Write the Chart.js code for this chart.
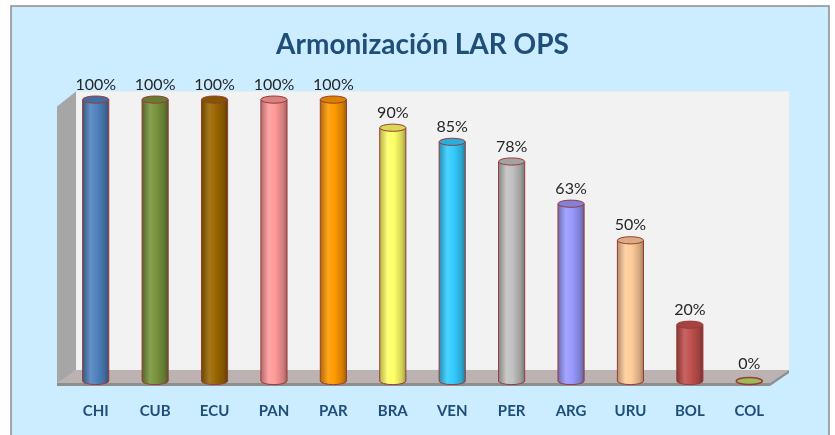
<!DOCTYPE html>
<html>
<head>
<meta charset="utf-8">
<script src="https://cdn.jsdelivr.net/npm/chart.js@4"></script>
<style>
    html, body { margin: 0; padding: 0; background: #ffffff; }
    canvas { display: block; }
</style>
</head>
<body>
<canvas id="chart" width="835" height="435"></canvas>
<script>
    const categories = ["CHI", "CUB", "ECU", "PAN", "PAR", "BRA", "VEN", "PER", "ARG", "URU", "BOL", "COL"];
    const values = [100, 100, 100, 100, 100, 90, 85, 78, 63, 50, 20, 0];
    const barColors = ["#4F81BD", "#77933C", "#996600", "#FF9999", "#FF9900", "#FFFF66", "#33CCFF", "#C0C0C0", "#9999FF", "#FFCC99", "#C0504D", "#9BBB59"];

    const barPercentage = 0.44;
    const outline = "#9B3A38";

    function shade(hex, f) {
        const n = parseInt(hex.slice(1), 16);
        const rgb = [n >> 16, (n >> 8) & 255, n & 255].map(c => {
            const v = f < 1 ? c * f : c + (255 - c) * (f - 1);
            return Math.round(Math.max(0, Math.min(255, v)));
        });
        return `rgb(${rgb.join(",")})`;
    }

    function cylinderFill(ctx, x, half, color) {
        const g = ctx.createLinearGradient(x - half, 0, x + half, 0);
        g.addColorStop(0, shade(color, 0.7));
        g.addColorStop(0.3, shade(color, 1.12));
        g.addColorStop(0.55, color);
        g.addColorStop(0.85, shade(color, 0.82));
        g.addColorStop(1, shade(color, 0.62));
        return g;
    }

    function barHalfWidth(chart) {
        const x = chart.scales.x;
        return x.width / categories.length * barPercentage / 2;
    }

    const stage = {
        id: "stage",
        beforeDraw(chart) {
            const { ctx, chartArea } = chart;
            const { left, right, top, bottom } = chartArea;
            ctx.save();
            ctx.fillStyle = "#ffffff";
            ctx.fillRect(0, 0, chart.width, chart.height);
            ctx.fillStyle = "#CCECFF";
            ctx.fillRect(11, 6, 818, 440);
            ctx.strokeStyle = "#8C8C8C";
            ctx.lineWidth = 1.5;
            ctx.strokeRect(11, 6, 818, 440);

            // back wall
            ctx.fillStyle = "#F2F2F2";
            ctx.fillRect(left + 10, top - 8, right - left, bottom - top - 3);
            ctx.strokeStyle = "#E4EEF4";
            ctx.lineWidth = 1;
            ctx.strokeRect(left + 10, top - 8, right - left, bottom - top - 3);

            // left wall
            ctx.fillStyle = "#A6A6A6";
            ctx.beginPath();
            ctx.moveTo(left - 9, top + 7);
            ctx.lineTo(left + 10, top - 8);
            ctx.lineTo(left + 10, bottom - 11);
            ctx.lineTo(left - 9, bottom + 5);
            ctx.closePath();
            ctx.fill();

            // floor
            ctx.fillStyle = "#BCB2B2";
            ctx.beginPath();
            ctx.moveTo(left - 9, bottom + 2);
            ctx.lineTo(left + 10, bottom - 11);
            ctx.lineTo(right + 10, bottom - 11);
            ctx.lineTo(right - 9, bottom + 2);
            ctx.closePath();
            ctx.fill();
            ctx.fillStyle = "#8E8E8E";
            ctx.fillRect(left - 9, bottom + 2, right - left, 3);
            ctx.beginPath();
            ctx.moveTo(right - 9, bottom + 2);
            ctx.lineTo(right + 10, bottom - 11);
            ctx.lineTo(right + 10, bottom - 8);
            ctx.lineTo(right - 9, bottom + 5);
            ctx.closePath();
            ctx.fill();
            ctx.restore();
        },
        afterDatasetsDraw(chart) {
            const { ctx } = chart;
            const meta = chart.getDatasetMeta(0);
            const half = barHalfWidth(chart);
            const ry = 3.6;
            ctx.save();
            meta.data.forEach((bar, i) => {
                const color = barColors[i];
                const x = bar.x;
                const y = bar.y;
                const base = bar.base;
                ctx.lineWidth = 1;
                ctx.strokeStyle = outline;

                if (values[i] > 0) {
                    // rounded bottom
                    ctx.fillStyle = cylinderFill(ctx, x, half, color);
                    ctx.beginPath();
                    ctx.ellipse(x, base, half, ry, 0, 0, Math.PI);
                    ctx.fill();
                    ctx.beginPath();
                    ctx.moveTo(x - half, y);
                    ctx.lineTo(x - half, base);
                    ctx.ellipse(x, base, half, ry, 0, Math.PI, 0, true);
                    ctx.lineTo(x + half, y);
                    ctx.stroke();
                    // top cap
                    ctx.fillStyle = shade(color, 0.85);
                    ctx.beginPath();
                    ctx.ellipse(x, y, half, ry, 0, 0, Math.PI * 2);
                    ctx.fill();
                    ctx.stroke();
                } else {
                    ctx.fillStyle = color;
                    ctx.beginPath();
                    ctx.ellipse(x, base, half, ry, 0, 0, Math.PI * 2);
                    ctx.fill();
                    ctx.lineWidth = 1.5;
                    ctx.stroke();
                }

                ctx.fillStyle = "#262626";
                ctx.font = "16px Lato";
                ctx.textAlign = "center";
                ctx.textBaseline = "alphabetic";
                ctx.fillText(`${values[i]}%`, x, y - (values[i] > 0 ? 10 : 12));
            });
            ctx.restore();
        }
    };

    new Chart(document.getElementById("chart"), {
        type: "bar",
        data: {
            labels: categories,
            datasets: [{
                data: values,
                backgroundColor: context => {
                    const chart = context.chart;
                    const color = barColors[context.dataIndex];
                    if (!chart.chartArea) {
                        return color;
                    }
                    const x = chart.scales.x.getPixelForValue(context.dataIndex);
                    return cylinderFill(chart.ctx, x, barHalfWidth(chart), color);
                },
                borderWidth: 0,
                barPercentage: barPercentage,
                categoryPercentage: 1
            }]
        },
        options: {
            responsive: false,
            animation: false,
            devicePixelRatio: 1,
            layout: {
                padding: { left: 66, right: 56, top: 14, bottom: 16 }
            },
            plugins: {
                legend: { display: false },
                tooltip: { enabled: false },
                title: {
                    display: true,
                    text: "Armonización LAR OPS",
                    color: "#1F4E79",
                    font: { family: "Lato", size: 28, weight: "bold" },
                    padding: { top: 14, bottom: 38 }
                }
            },
            scales: {
                x: {
                    grid: { display: false, drawTicks: false },
                    border: { display: false },
                    afterFit: scale => { scale.height = 38; },
                    ticks: {
                        color: "#1F4E79",
                        padding: 21,
                        font: { family: "Lato", size: 15, weight: "bold" }
                    }
                },
                y: {
                    display: false,
                    min: 0,
                    max: 100
                }
            }
        },
        plugins: [stage]
    });
</script>
</body>
</html>
